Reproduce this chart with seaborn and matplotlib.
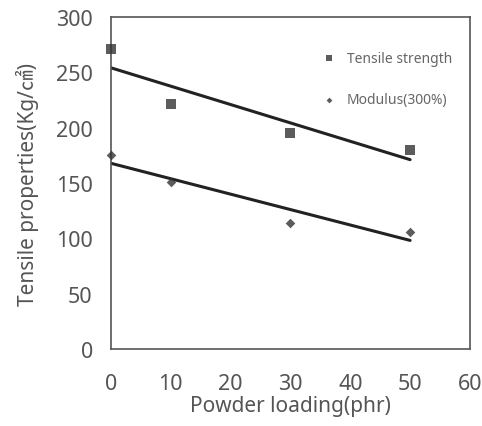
import numpy as np
import pandas as pd
import matplotlib
matplotlib.use("Agg")
import matplotlib.pyplot as plt
import seaborn as sns

loading = [0, 10, 30, 50]
tensile_strength = [271, 221, 195, 180]
modulus_300 = [175, 151, 114, 106]
x_ticks = [0, 10, 20, 30, 40, 50, 60]
y_ticks = [0, 50, 100, 150, 200, 250, 300]

sns.set_theme(style="white")
plt.rcParams['font.family'] = ['Noto Sans', 'Noto Sans CJK KR', 'DejaVu Sans']

df = pd.DataFrame({"loading": loading, "ts": tensile_strength, "mod": modulus_300})

fig = plt.figure(figsize=(4.82, 4.27), dpi=100)
ax = fig.add_axes([0.230, 0.180, 0.745, 0.778])

txt = "#555555"
sns.regplot(data=df, x="loading", y="ts", ci=None, ax=ax, marker="s",
            label="Tensile strength",
            scatter_kws=dict(s=42, color="#333333", linewidths=0, clip_on=False, zorder=4),
            line_kws=dict(color="#222222", lw=2.2))
sns.regplot(data=df, x="loading", y="mod", ci=None, ax=ax, marker="D",
            label="Modulus(300%)",
            scatter_kws=dict(s=24, color="#333333", linewidths=0, clip_on=False, zorder=4),
            line_kws=dict(color="#222222", lw=2.2))

ax.set_xlim(0, 60)
ax.set_ylim(0, 300)
ax.set_xticks(x_ticks)
ax.set_yticks(y_ticks)
ax.tick_params(axis="x", length=0, labelsize=15.5, colors=txt, pad=17)
ax.tick_params(axis="y", length=0, labelsize=15.5, colors=txt, pad=13)
ax.set_xlabel("Powder loading(phr)", fontsize=15, color=txt, labelpad=1)
ax.set_ylabel("Tensile properties(Kg/㎠)", fontsize=15, color=txt, labelpad=12)
for s in ax.spines.values():
    s.set_color("#555555")
    s.set_linewidth(1.2)

handles, labels = ax.get_legend_handles_labels()
leg = ax.legend(handles, labels, loc="upper right", frameon=False,
                fontsize=10, markerscale=0.6, handletextpad=0.3, labelspacing=1.9,
                bbox_to_anchor=(0.985, 0.935))
for t in leg.get_texts():
    t.set_color("#666666")

fig.savefig("out.png", dpi=100)
